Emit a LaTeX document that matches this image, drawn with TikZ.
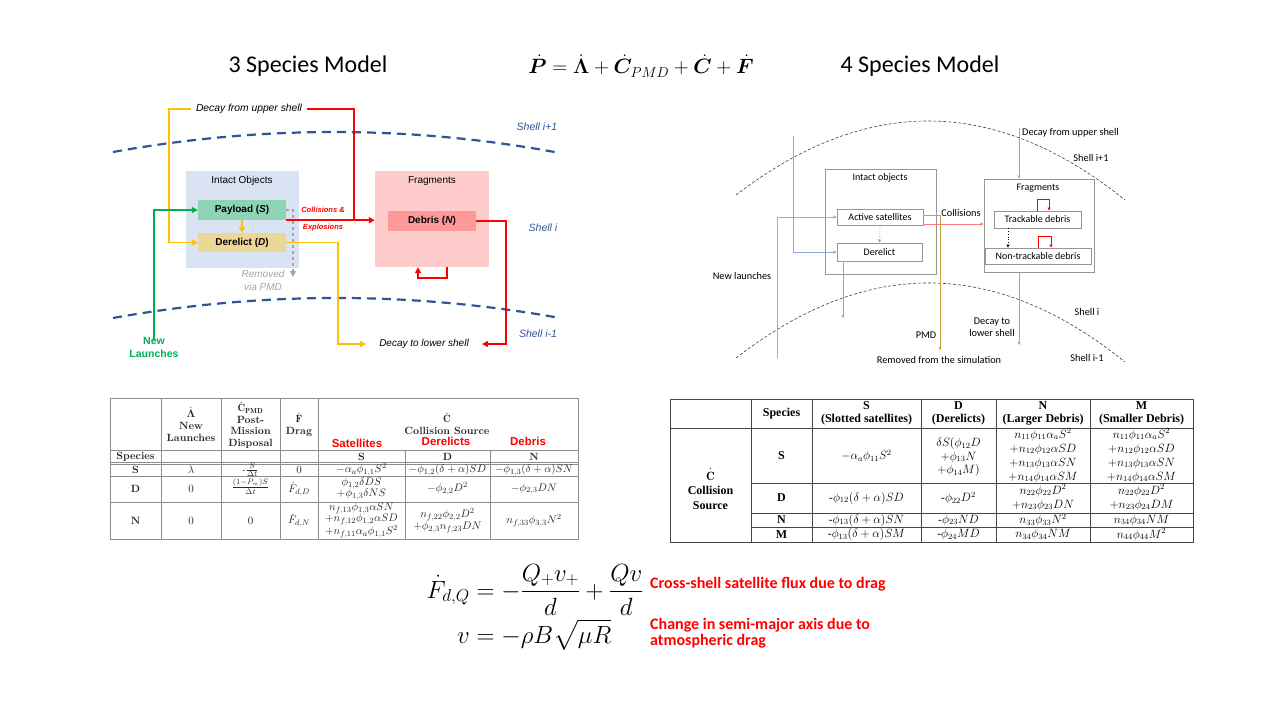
\documentclass[tikz,border=0pt]{standalone}
\usepackage{amsmath}
\usepackage{bm}
\usepackage{fontspec}
\newfontfamily\arl{Liberation Sans}
\newfontfamily\carl{Carlito}
\newfontfamily\tms{Liberation Serif}
\usetikzlibrary{arrows.meta}
\newcommand\fsz[2]{\fontsize{#1}{#2}\selectfont}
\definecolor{shellblue}{RGB}{47,85,151}
\definecolor{yel}{RGB}{255,192,0}
\definecolor{rd}{RGB}{255,0,0}
\definecolor{grn}{RGB}{0,176,80}
\definecolor{intbg}{RGB}{218,227,243}
\definecolor{paybg}{RGB}{142,211,180}
\definecolor{derbg}{RGB}{236,216,150}
\definecolor{fragbg}{RGB}{255,204,204}
\definecolor{debbg}{RGB}{255,153,153}
\definecolor{pmdgray}{RGB}{166,166,166}
\definecolor{lgreen}{RGB}{110,210,140}
\definecolor{lblue}{RGB}{140,168,220}
\definecolor{lred}{RGB}{255,120,120}
\definecolor{gold}{RGB}{205,160,60}
\definecolor{boxgray}{RGB}{150,150,150}
\definecolor{tblgray}{RGB}{140,140,140}
\definecolor{tbldark}{RGB}{70,70,70}
\definecolor{tbltext}{RGB}{40,40,40}
\tikzset{
  bigarr/.style={-{Triangle[length=6pt,width=6pt]}},
  smallarr/.style={-{Triangle[length=3pt,width=3pt]}},
  thick3/.style={line width=1.6pt},
  thin4/.style={line width=0.7pt},
  shelldash/.style={draw=shellblue,line width=2.2pt,dash pattern=on 9pt off 6pt},
  shelldash4/.style={draw=black!75,line width=0.6pt,dash pattern=on 3pt off 2pt},
  cell3/.style={font=\fsz{11}{11},align=center,inner sep=0pt,text=tbltext},
  hd3/.style={font=\bfseries\fsz{10.5}{12},align=center,inner sep=0pt,text=tbltext},
  cell4/.style={font=\tms\fsz{11.5}{14},align=center,inner sep=0pt},
  hd4/.style={font=\tms\bfseries\fsz{12}{13},align=center,inner sep=0pt},
  box3/.style={inner sep=0pt},
  box4/.style={draw=boxgray,line width=0.8pt,inner sep=0pt,font=\carl\fsz{10}{12}},
  lab4/.style={font=\carl\fsz{10.3}{12},inner sep=1pt,align=center},
  tline/.style={draw=tblgray,line width=0.7pt},
  rline/.style={draw=tbldark,line width=0.8pt}
}
\begin{document}
\begin{tikzpicture}[x=1pt,y=-1pt]
\path[fill=white,use as bounding box] (0,0) rectangle (1280,720);

% ---------------- titles
\node[font=\carl\fsz{24}{28}] (t3) at (308,66) {3 Species Model};
\node[font=\fsz{21.5}{24}] (teq) at (641,66) {$\dot{\bm P}=\dot{\bm\Lambda}+\dot{\bm C}_{PMD}+\dot{\bm C}+\dot{\bm F}$};
\node[font=\carl\fsz{24}{28}] (t4) at (920,66) {4 Species Model};

% ---------------- left diagram
\draw[shelldash] (113,152) .. controls (262,125.2) and (411,125.2) .. (560,153);
\draw[shelldash] (113,318) .. controls (262,291.3) and (411,291.3) .. (560,318);
\node[font=\arl\itshape\fsz{10.5}{12},text=shellblue] (sh1) at (537,127) {Shell i+1};
\node[font=\arl\itshape\fsz{10.5}{12},text=shellblue] (sh2) at (543,228) {Shell i};
\node[font=\arl\itshape\fsz{10.5}{12},text=shellblue] (sh3) at (538,334) {Shell i-1};

\node[box3,fill=intbg,minimum width=113pt,minimum height=97pt] (intact) at (242.5,219.5) {};
\node[font=\arl\fsz{10}{12}] (intactL) at (242,181) {Intact Objects};
\node[box3,fill=paybg,minimum width=88pt,minimum height=20pt,font=\arl\bfseries\fsz{10}{12}] (pay) at (242,210) {Payload (\textit{S})};
\node[box3,fill=derbg,minimum width=88pt,minimum height=19pt,font=\arl\bfseries\fsz{10}{12}] (der) at (242,242.5) {Derelict (\textit{D})};
\node[box3,fill=fragbg,minimum width=114pt,minimum height=96pt] (frag) at (432,219) {};
\node[font=\arl\fsz{10}{12}] (fragL) at (432,181) {Fragments};
\node[box3,fill=debbg,minimum width=88pt,minimum height=20pt,font=\arl\bfseries\fsz{10}{12}] (deb) at (432,221) {Debris (\textit{N})};

\node[font=\arl\itshape\fsz{10.3}{12},inner sep=5pt] (decayU) at (249,109) {Decay from upper shell};
\node[font=\arl\itshape\fsz{10}{12},inner sep=3pt] (decayL) at (424,344) {Decay to lower shell};
\node[font=\arl\bfseries\itshape\fsz{7.5}{9},text=rd] (coll) at (323,210) {Collisions \&};
\node[font=\arl\bfseries\itshape\fsz{7.5}{9},text=rd] (expl) at (323,228) {Explosions};
\node[font=\arl\itshape\fsz{10}{13},text=pmdgray,align=center] (remv) at (263,280.5) {Removed\\via PMD};
\node[font=\arl\bfseries\fsz{10.5}{13},text=grn,align=center,inner sep=2pt] (newL) at (154,347) {New\\Launches};

\coordinate (yTop) at (169,109);
\draw[yel,thick3,bigarr] (decayU.west) -- (yTop) |- (der.west);
\coordinate (rTop) at (354,109);
\draw[rd,thick3] (decayU.east) -- (rTop) -- (rTop |- pay.south east);
\draw[rd,thick3,bigarr] (pay.south east) -- (pay.south east -| frag.west);
\coordinate (pmdE) at (293,277);
\draw[pmdgray,line width=1.4pt,dashed,bigarr] (pay.east) -| (pmdE);
\draw[yel,thick3,bigarr] (pay.south) -- (der.north);
\coordinate (yBot) at (338,344);
\draw[yel,thick3,bigarr] (der.east) -| (yBot) -- ([xshift=-10pt]decayL.west);
\coordinate (rBot) at (506,344);
\draw[rd,thick3,bigarr] (deb.east) -| (rBot) -- ([xshift=10pt]decayL.east);
\draw[rd,thick3,bigarr] ([xshift=15pt]frag.south) -- ++(0,11) -| ([xshift=-14pt]frag.south);
\draw[grn,thick3,bigarr] ([yshift=-5pt]newL.north) |- (pay.west);

% ---------------- right diagram
\draw[shelldash4] (736,195) .. controls (866,95.5) and (995,95.5) .. (1125,200);
\draw[shelldash4] (736,358) .. controls (866,257.3) and (995,257.3) .. (1125,362);
\node[lab4] (rsh1) at (1091,158) {Shell i+1};
\node[lab4] (rsh2) at (1087,312) {Shell i};
\node[lab4] (rsh3) at (1087,358) {Shell i-1};

\node[box4,minimum width=111pt,minimum height=105pt] (intact2) at (880.5,221.5) {};
\node[lab4,font=\carl\fsz{10}{12}] (intact2L) at (880,178) {Intact objects};
\node[box4,minimum width=86pt,minimum height=16pt] (act) at (880,217) {Active satellites};
\node[box4,minimum width=85pt,minimum height=18pt] (der2) at (879.5,252) {Derelict};
\node[box4,minimum width=110pt,minimum height=93pt] (frag2) at (1039,225.5) {};
\node[lab4,font=\carl\fsz{10}{12}] (frag2L) at (1038,188) {Fragments};
\node[box4,minimum width=87pt,minimum height=17pt] (trk) at (1037.5,219.5) {Trackable debris};
\node[box4,minimum width=106pt,minimum height=16pt] (ntrk) at (1038,256) {Non-trackable debris};

\node[lab4] (collL) at (961,213) {Collisions};
\node[lab4] (pmdL) at (926,335) {PMD};
\node[lab4] (remL) at (939,360) {Removed from the simulation};
\node[lab4,anchor=west] (decU2) at (1021,133) {Decay from upper shell};
\node[lab4] (decL2) at (992,327) {Decay to\\lower shell};
\node[lab4] (newL2) at (742,276) {New launches};

\coordinate (g0) at (777,358);
\draw[lgreen,thin4,smallarr] (g0) |- (act.west);
\coordinate (b0) at (793,136);
\draw[lblue,thin4,smallarr] (b0) |- (der2.west);
\coordinate (b1) at (843,318);
\draw[lblue,thin4,smallarr] (der2.south west -| b1) -- (b1);
\draw[gold,thin4,dotted,smallarr] (act.south) -- (der2.north);
\draw[lred,thin4,smallarr] ([yshift=-7pt]act.east) -- ([yshift=-7pt]act.east -| frag2.west);
\coordinate (pmdB) at (940,350);
\draw[gold,thin4,smallarr] ([yshift=2pt]act.east) -| (pmdB);
\coordinate (b2) at (1019,128);
\draw[lblue,thin4,smallarr] (b2) -- (b2 |- frag2.north);
\coordinate (b3) at (1019,345);
\draw[lblue,thin4,smallarr] (b3 |- frag2.south) -- (b3);
\draw[rd,line width=0.9pt,smallarr] ([xshift=-0.5pt]trk.north) -- ++(0,-11) -| ([xshift=11.5pt]trk.north);
\draw[rd,line width=0.9pt,smallarr] (ntrk.north) -- ++(0,-11) -| ([xshift=13pt]ntrk.north);
\draw[black,thin4,dotted,smallarr] ([xshift=-29.5pt]trk.south) -- ([xshift=-29.5pt]trk.south |- ntrk.north);

% ---------------- left table
\draw[tline] (110,398) rectangle (578,539);
\foreach \xx in {161,221,280,318} \draw[tline] (\xx,398) -- (\xx,539);
\foreach \xx in {405,490} \draw[tline] (\xx,450) -- (\xx,539);
\foreach \yy in {450,462.5,464.5,476,502.5} \draw[tline] (110,\yy) -- (578,\yy);

\node[hd3] (hL) at (191,424) {$\dot{\bm\Lambda}$\\New\\Launches};
\node[hd3,font=\bfseries\fsz{10.5}{11.5}] (hC) at (250.5,425) {$\dot{\mathbf C}_{\mathbf{PMD}}$\\Post-\\Mission\\Disposal};
\node[hd3] (hF) at (299,425) {$\dot{\mathbf F}$\\Drag};
\node[hd3] (hCc) at (447,424) {$\dot{\mathbf C}$\\Collision Source};
\node[font=\arl\bfseries\fsz{11.5}{13},text=rd,inner sep=0pt] (hSat) at (357,443) {Satellites};
\node[font=\arl\bfseries\fsz{11.5}{13},text=rd,inner sep=0pt] (hDer) at (446,441) {Derelicts};
\node[font=\arl\bfseries\fsz{11.5}{13},text=rd,inner sep=0pt] (hDeb) at (528,441) {Debris};
\node[hd3] (spc) at (135.5,456.5) {Species};
\node[hd3] (cS) at (361.5,456.5) {S};
\node[hd3] (cD) at (447.5,456.5) {D};
\node[hd3] (cN) at (534,456.5) {N};

\node[hd3] (rS) at (135.5,470) {S};
\node[cell3] (s1) at (191,470) {$\lambda$};
\node[cell3] (s2) at (250.5,470) {-$\frac{S}{\Delta t}$};
\node[cell3] (s3) at (299,470) {$0$};
\node[cell3] (s4) at (361.5,470) {$-\alpha_a\phi_{1,1}S^2$};
\node[cell3] (s5) at (447.5,470) {$-\phi_{1,2}(\delta+\alpha)SD$};
\node[cell3] (s6) at (534,470) {$-\phi_{1,3}(\delta+\alpha)SN$};

\node[hd3] (rD) at (135.5,489) {D};
\node[cell3] (d1) at (191,489) {$0$};
\node[cell3] (d2) at (250.5,486.5) {$\frac{(1-P_m)S}{\Delta t}$};
\node[cell3] (d3) at (299,489) {$\dot F_{d,D}$};
\node[cell3] (d4) at (361.5,489) {$\phi_{1,2}\delta DS$\\$+\phi_{1,3}\delta NS$};
\node[cell3] (d5) at (447.5,489) {$-\phi_{2,2}D^2$};
\node[cell3] (d6) at (534,489) {$-\phi_{2,3}DN$};

\node[hd3] (rN) at (135.5,520.5) {N};
\node[cell3] (n1) at (191,520.5) {$0$};
\node[cell3] (n2) at (250.5,520.5) {$0$};
\node[cell3] (n3) at (299,520.5) {$\dot F_{d,N}$};
\node[cell3] (n4) at (361.5,520.5) {$n_{f,13}\phi_{1,3}\alpha SN$\\$+n_{f,12}\phi_{1,2}\alpha SD$\\$+n_{f,11}\alpha_a\phi_{1,1}S^2$};
\node[cell3,font=\fsz{11}{12}] (n5) at (447.5,520.5) {$n_{f,22}\phi_{2,2}D^2$\\$+\phi_{2,3}n_{f,23}DN$};
\node[cell3] (n6) at (534,520.5) {$n_{f,33}\phi_{3,3}N^2$};

% ---------------- right table
\draw[rline] (670,399) rectangle (1193,542);
\foreach \xx in {751,812,921,996,1090} \draw[rline] (\xx,399) -- (\xx,542);
\draw[rline] (670,428) -- (1193,428);
\foreach \yy in {483.5,513,527} \draw[rline] (751,\yy) -- (1193,\yy);

\node[hd4] (hSp) at (781.5,413.5) {Species};
\node[hd4] (hS4) at (866.5,413.5) {S\\(Slotted satellites)};
\node[hd4] (hD4) at (958.5,413.5) {D\\(Derelicts)};
\node[hd4] (hN4) at (1043,413.5) {N\\(Larger Debris)};
\node[hd4] (hM4) at (1141.5,413.5) {M\\(Smaller Debris)};
\node[hd4,font=\tms\bfseries\fsz{12}{14.5}] (cc4) at (710.5,489) {$\dot{\mathbf C}$\\Collision\\Source};

\node[hd4] (r4S) at (781.5,456) {S};
\node[hd4] (r4D) at (781.5,498) {D};
\node[hd4] (r4N) at (781.5,520) {N};
\node[hd4] (r4M) at (781.5,534.5) {M};

\node[cell4] (a1) at (866.5,456) {$-\alpha_a\phi_{11}S^2$};
\node[cell4,font=\tms\fsz{11.5}{13.5}] (a2) at (958.5,457) {$\delta S(\phi_{12}D$\\$+\phi_{13}N$\\$+\phi_{14}M)$};
\node[cell4] (a3) at (1043,455.5) {$n_{11}\phi_{11}\alpha_aS^2$\\$+n_{12}\phi_{12}\alpha SD$\\$+n_{13}\phi_{13}\alpha SN$\\$+n_{14}\phi_{14}\alpha SM$};
\node[cell4] (a4) at (1141.5,455.5) {$n_{11}\phi_{11}\alpha_aS^2$\\$+n_{12}\phi_{12}\alpha SD$\\$+n_{13}\phi_{13}\alpha SN$\\$+n_{14}\phi_{14}\alpha SM$};

\node[cell4] (b41) at (866.5,498) {-$\phi_{12}(\delta+\alpha)SD$};
\node[cell4] (b42) at (958.5,498) {-$\phi_{22}D^2$};
\node[cell4] (b43) at (1043,497.5) {$n_{22}\phi_{22}D^2$\\$+n_{23}\phi_{23}DN$};
\node[cell4] (b44) at (1141.5,497.5) {$n_{22}\phi_{22}D^2$\\$+n_{23}\phi_{24}DM$};

\node[cell4] (c41) at (866.5,520) {-$\phi_{13}(\delta+\alpha)SN$};
\node[cell4] (c42) at (958.5,520) {-$\phi_{23}ND$};
\node[cell4] (c43) at (1043,520) {$n_{33}\phi_{33}N^2$};
\node[cell4] (c44) at (1141.5,520) {$n_{34}\phi_{34}NM$};

\node[cell4] (e41) at (866.5,534.5) {-$\phi_{13}(\delta+\alpha)SM$};
\node[cell4] (e42) at (958.5,534.5) {-$\phi_{24}MD$};
\node[cell4] (e43) at (1043,534.5) {$n_{34}\phi_{34}NM$};
\node[cell4] (e44) at (1141.5,534.5) {$n_{44}\phi_{44}M^2$};

% ---------------- bottom equations
\node[font=\fsz{24.5}{28},inner sep=0pt] (feq) at (535,608) {$\begin{aligned}\dot F_{d,Q} &= -\frac{Q_+v_+}{d}+\frac{Qv}{d}\\ v &= -\rho B\sqrt{\mu R}\end{aligned}$};
\node[font=\carl\bfseries\fsz{16}{16.5},text=rd,anchor=west,inner sep=0pt] (lab1) at (650,584) {Cross-shell satellite flux due to drag};
\node[font=\carl\bfseries\fsz{16}{16.5},text=rd,anchor=west,align=left,inner sep=0pt] (lab2) at (650,633) {Change in semi-major axis due to\\atmospheric drag};
\end{tikzpicture}
\end{document}
